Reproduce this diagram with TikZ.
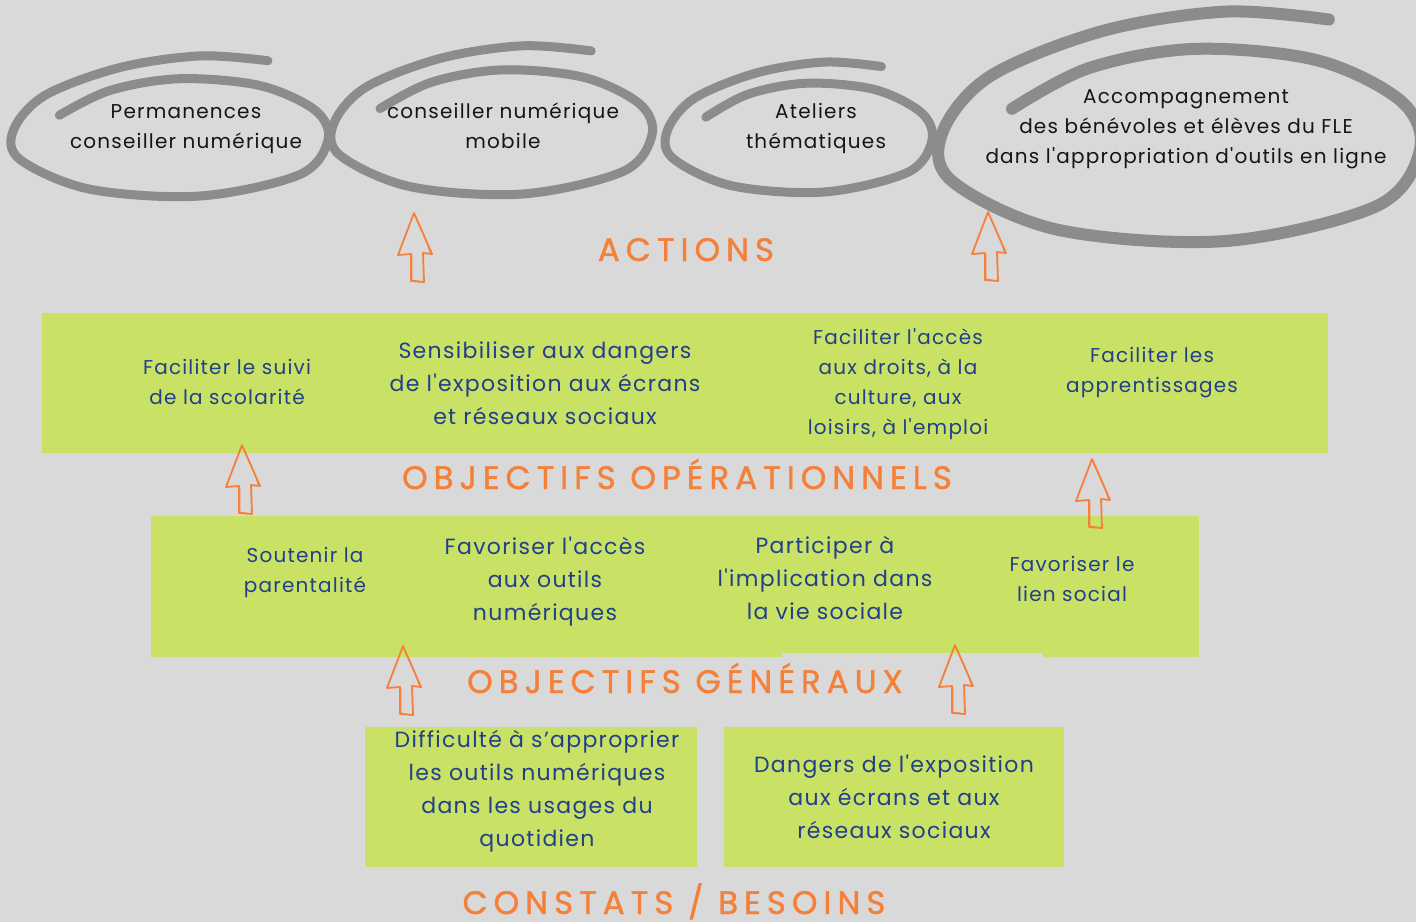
\documentclass[tikz,border=0pt]{standalone}
\usepackage{fontspec}
\setmainfont{Poppins}
\newfontfamily\mfont{Poppins}
\definecolor{bg}{HTML}{D9D9D9}
\definecolor{lime}{HTML}{C9E265}
\definecolor{navy}{HTML}{213F8C}
\definecolor{orng}{HTML}{F5803A}
\definecolor{ring}{HTML}{8C8C8C}
\definecolor{ink}{HTML}{151515}
\newcommand\handring[5]{%
  \draw[ring, line width=#5, line cap=round, line join=round, shift={(#1,#2)}, xscale=#3, yscale=#4]
    plot[smooth, tension=0.55] coordinates {(-0.70,-0.17) (-0.38,-0.53) (0.06,-0.70) (0.57,-0.60) (0.92,-0.24) (1.0,0.19) (0.82,0.69) (0.19,1.0) (-0.51,0.9) (-0.95,0.47) (-0.99,0.04) (-0.79,-0.46) (-0.32,-0.86) (0.19,-1.03) (0.62,-0.96)};}
\begin{document}
\begin{tikzpicture}[x=1pt,y=-1pt,
  etext/.style={text=ink, align=center, font=\mfont\fontsize{20}{30}\selectfont\addfontfeature{LetterSpace=6}},
  gtext/.style={text=navy, align=center, font=\mfont\fontsize{20}{30}\selectfont\addfontfeature{LetterSpace=6}},
  gbig/.style={text=navy, align=center, font=\mfont\fontsize{22}{33}\selectfont\addfontfeature{LetterSpace=6}},
  head/.style={text=orng, anchor=base, inner sep=0pt, font=\mfont\fontsize{32.5}{32.5}\selectfont\addfontfeature{LetterSpace=18.5,FakeBold=1.2}},
  gbox/.style={fill=lime, draw=none, inner sep=0pt},
  uparrow/.pic={
    \draw[orng, line width=1.8pt, line join=round] (0,0) -- (18,41) -- (9,40) -- (10,69) -- (-3,68) -- (-3,41) -- (-16,42) -- cycle;
    \draw[orng, line width=0.9pt] (1,3) .. controls (7,15) and (13,28) .. (16,39);
    \draw[orng, line width=0.8pt] (-2,42) -- (-2,67) -- (9,69);}
]
\fill[bg] (0,0) rectangle (1416,922);
\useasboundingbox (0,0) rectangle (1416,922);

% rings
\handring{170}{127}{158}{69}{9pt}
\handring{492}{121}{160}{73}{9pt}
\handring{799}{128}{133}{64}{9pt}
\handring{1180}{128}{240}{113}{12pt}

\node[etext] (e1) at (186,129) {Permanences\\conseiller numérique};
\node[etext] (e2) at (503,126) {conseiller numérique\\mobile};
\node[etext] (e3) at (816,128) {Ateliers\\thématiques};
\node[etext] (e4) at (1186,129) {Accompagnement\\des bénévoles et élèves du FLE\\dans l'appropriation d'outils en ligne};

% boxes
\node[gbox, minimum width=1286pt, minimum height=140pt] (b1) at (685,383) {};
\node[gbox, minimum width=1048pt, minimum height=141pt] (b2) at (675,586.5) {};
\fill[bg] (782,653) rectangle (1043,658);
\node[gbox, minimum width=332pt, minimum height=140pt] (b3) at (531,797) {};
\node[gbox, minimum width=340pt, minimum height=140pt] (b4) at (894,797) {};

% headings
\node[head] (h1) at (686,261) {ACTIONS};
\node[head] (h2) at (677,489) {OBJECTIFS OPÉRATIONNELS};
\node[head] (h3) at (685,693) {OBJECTIFS GÉNÉRAUX};
\node[head] (h4) at (674,914) {CONSTATS / BESOINS};

% operational objectives
\node[gtext] (o1) at (227,382) {Faciliter le suivi\\de la scolarité};
\node[gbig] (o2) at (545,383) {Sensibiliser aux dangers\\de l'exposition aux écrans\\et réseaux sociaux};
\node[gtext] (o3) at (898,384) {Faciliter l'accès\\aux droits, à la\\culture, aux\\loisirs, à l'emploi};
\node[gtext] (o4) at (1152,373) {Faciliter les\\apprentissages};

% general objectives
\node[gtext] (g1) at (305,572) {Soutenir la\\parentalité};
\node[gbig] (g2) at (545,582) {Favoriser l'accès\\aux outils\\numériques};
\node[gbig] (g3) at (825,578) {Participer à\\l'implication dans\\la vie sociale};
\node[gtext] (g4) at (1072,579) {Favoriser le\\lien social};

% needs
\node[gbig] (n1) at (537,791) {Difficulté à s’approprier\\les outils numériques\\dans les usages du\\quotidien};
\node[gbig] (n2) at (894,797) {Dangers de l'exposition\\aux écrans et aux\\réseaux sociaux};

% arrows
\pic at (414,213) {uparrow};
\pic at (988,212) {uparrow};
\pic at (242,445) {uparrow};
\pic at (1092,459) {uparrow};
\pic at (403,646) {uparrow};
\pic at (955,645) {uparrow};
\end{tikzpicture}
\end{document}
